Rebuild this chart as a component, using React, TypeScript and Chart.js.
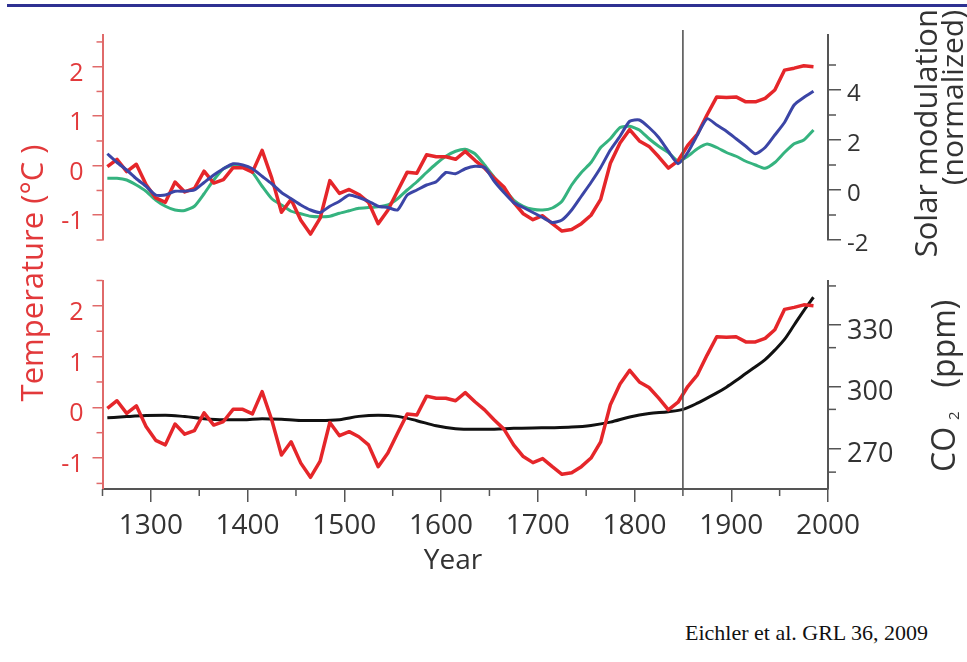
import React, { useEffect, useRef } from "react";
import { Chart, registerables } from "chart.js";

Chart.register(...registerables);

// ---------- data ----------
const YEARS = [
  1255, 1265, 1275, 1285, 1295, 1305, 1315, 1325, 1335, 1345,
  1355, 1365, 1375, 1385, 1395, 1405, 1415, 1425, 1435, 1445,
  1455, 1465, 1475, 1485, 1495, 1505, 1515, 1525, 1535, 1545,
  1555, 1565, 1575, 1585, 1595, 1605, 1615, 1625, 1635, 1645,
  1655, 1665, 1675, 1685, 1695, 1705, 1715, 1725, 1735, 1745,
  1755, 1765, 1775, 1785, 1795, 1805, 1815, 1825, 1835, 1845,
  1855, 1865, 1875, 1885, 1895, 1905, 1915, 1925, 1935, 1945,
  1955, 1965, 1975, 1985,
];

const TEMPERATURE = [
  -0.02, 0.13, -0.12, 0.03, -0.38, -0.65, -0.74, -0.33, -0.53, -0.46,
  -0.11, -0.35, -0.28, -0.04, -0.04, -0.13, 0.31, -0.25, -0.94, -0.68,
  -1.1, -1.38, -1.06, -0.3, -0.56, -0.48, -0.58, -0.74, -1.17, -0.9,
  -0.51, -0.13, -0.15, 0.22, 0.18, 0.18, 0.13, 0.29, 0.11, -0.05,
  -0.25, -0.43, -0.74, -0.97, -1.09, -1.01, -1.17, -1.32, -1.29, -1.17,
  -1.0, -0.68, 0.05, 0.46, 0.73, 0.5, 0.39, 0.18, -0.05, 0.1,
  0.41, 0.64, 1.03, 1.39, 1.38, 1.39, 1.29, 1.29, 1.36, 1.53,
  1.93, 1.97, 2.02, 2.0,
];

const SOLAR_BLUE = [
  1.45, 1.1, 0.8, 0.45, 0.15, -0.2, -0.2, -0.05, -0.05, 0.0,
  0.3, 0.6, 0.85, 1.05, 1.0, 0.85, 0.55, 0.25, -0.1, -0.35,
  -0.6, -0.8, -0.9, -0.65, -0.45, -0.2, -0.3, -0.45, -0.65, -0.7,
  -0.8, -0.2, 0.0, 0.2, 0.33, 0.7, 0.65, 0.85, 0.95, 0.9,
  0.35, -0.1, -0.5, -0.7, -0.9, -1.1, -1.3, -1.2, -0.8, -0.25,
  0.3, 0.9, 1.6, 2.15, 2.75, 2.8, 2.5, 2.1, 1.55, 1.05,
  1.5, 2.2, 2.85, 2.6, 2.35, 2.05, 1.75, 1.45, 1.7, 2.2,
  2.7, 3.4, 3.7, 3.95,
];

const SOLAR_GREEN = [
  0.47, 0.47, 0.4, 0.2, -0.05, -0.4, -0.65, -0.8, -0.82, -0.65,
  -0.15, 0.4, 0.85, 1.0, 0.95, 0.7, 0.15, -0.35, -0.6, -0.85,
  -0.95, -1.05, -1.07, -1.05, -0.93, -0.83, -0.73, -0.7, -0.67, -0.6,
  -0.35, 0.0, 0.33, 0.7, 1.05, 1.35, 1.55, 1.63, 1.45, 1.0,
  0.5, 0.05, -0.4, -0.65, -0.77, -0.8, -0.72, -0.45, 0.2, 0.7,
  1.1, 1.7, 2.05, 2.5, 2.55, 2.4, 2.05, 1.75, 1.5, 1.15,
  1.35, 1.65, 1.84, 1.7, 1.5, 1.35, 1.15, 1.0, 0.87, 1.1,
  1.5, 1.85, 2.0, 2.4,
];

const CO2_YEARS = [
  1255, 1275, 1295, 1315, 1335, 1355, 1375, 1395, 1415, 1435,
  1455, 1475, 1495, 1515, 1535, 1555, 1575, 1595, 1615, 1635,
  1655, 1675, 1695, 1715, 1735, 1755, 1775, 1795, 1815, 1835,
  1850, 1865, 1875, 1885, 1895, 1905, 1915, 1925, 1935, 1945,
  1955, 1965, 1975, 1985,
];

const CO2_PPM = [
  284.9, 285.5, 286.0, 286.2, 285.5, 284.5, 284.0, 284.0, 284.5, 284.2,
  283.6, 283.6, 284.0, 285.6, 286.2, 285.6, 283.5, 281.0, 279.6, 279.3,
  279.4, 279.8, 280.0, 280.1, 280.4, 281.2, 282.8, 285.3, 287.0, 287.9,
  289.0, 292.0, 294.5, 297.0, 299.8, 303.0, 306.4, 309.7, 313.2, 317.8,
  323.0, 330.0, 337.0, 343.5,
];

// ---------- ticks ----------
const X_MAJOR = [1300, 1400, 1500, 1600, 1700, 1800, 1900, 2000];
const X_MINOR = [1250, 1350, 1450, 1550, 1650, 1750, 1850, 1950];
const TEMP_MAJOR = [-1, 0, 1, 2];
const TEMP_MINOR = [-1.5, -0.5, 0.5, 1.5, 2.5];
const SOLAR_MAJOR = [-2, 0, 2, 4];
const SOLAR_MINOR = [-1, 1, 3, 5];
const CO2_MAJOR = [270, 300, 330];
const CO2_MINOR = [258.5, 289, 319, 349];
const MARKER_YEAR = 1850;

// ---------- styles ----------
const FONT = "'Open Sans', 'DejaVu Sans', sans-serif";
const RED = "#e5262a";
const RED_AXIS = "#e06a6a";
const RED_TEXT = "#e2393b";
const BLUE = "#3b45a6";
const GREEN = "#35b37f";
const DARK = "#333333";
const AXIS_GRAY = "#555555";

const pts = (xs: number[], ys: number[]) => xs.map((x, i) => ({ x, y: ys[i] }));

type Minor = { axis: string; values: number[]; length: number; color: string; width: number };

function makeDecor(id: string, minors: Minor[], lineTop: number, toCanvasBottom: boolean) {
  return {
    id,
    afterDatasetsDraw(chart: any) {
      const ctx = chart.ctx;
      const px = chart.scales.x.getPixelForValue(MARKER_YEAR);
      const bottom = toCanvasBottom ? chart.height : chart.chartArea.bottom;
      ctx.save();
      ctx.strokeStyle = AXIS_GRAY;
      ctx.lineWidth = 1.6;
      ctx.beginPath();
      ctx.moveTo(px, lineTop);
      ctx.lineTo(px, bottom);
      ctx.stroke();
      ctx.restore();
    },
    afterDraw(chart: any) {
      const ctx = chart.ctx;
      ctx.save();
      for (const m of minors) {
        const s = chart.scales[m.axis];
        ctx.strokeStyle = m.color;
        ctx.lineWidth = m.width;
        for (const v of m.values) {
          const p = s.getPixelForValue(v);
          ctx.beginPath();
          if (s.isHorizontal()) {
            ctx.moveTo(p, s.top);
            ctx.lineTo(p, s.top + m.length);
          } else if (s.position === "left") {
            ctx.moveTo(s.right, p);
            ctx.lineTo(s.right - m.length, p);
          } else {
            ctx.moveTo(s.left, p);
            ctx.lineTo(s.left + m.length, p);
          }
          ctx.stroke();
        }
      }
      ctx.restore();
    },
  };
}

function yAxis(opts: {
  position: "left" | "right";
  min: number;
  max: number;
  majors: number[];
  width: number;
  spine: string;
  tick: string;
  label: string;
  size: number;
  tickLength: number;
  padding: number;
  labelOffset: number;
}) {
  return {
    type: "linear",
    position: opts.position,
    min: opts.min,
    max: opts.max,
    afterBuildTicks: (s: any) => {
      s.ticks = opts.majors.map((v) => ({ value: v }));
    },
    afterFit: (s: any) => {
      s.width = opts.width;
      s.paddingTop = 0;
      s.paddingBottom = 0;
    },
    grid: {
      drawOnChartArea: false,
      drawTicks: true,
      tickLength: opts.tickLength,
      color: opts.tick,
      lineWidth: 1.5,
    },
    border: { display: true, color: opts.spine, width: 2 },
    ticks: {
      color: opts.label,
      font: { family: FONT, size: opts.size },
      padding: opts.padding,
      labelOffset: opts.labelOffset,
      autoSkip: false,
      callback: (v: any) => String(v),
    },
  };
}

const LEFT_PAD = 40;
const LEFT_W = 62.5;
const RIGHT_PAD = 39;
const RIGHT_W = 100;

export default function App() {
  const topRef = useRef<HTMLCanvasElement | null>(null);
  const botRef = useRef<HTMLCanvasElement | null>(null);

  useEffect(() => {
    const top = new Chart(topRef.current as HTMLCanvasElement, {
      type: "line",
      data: {
        datasets: [
          {
            label: "Temperature",
            data: pts(YEARS, TEMPERATURE),
            yAxisID: "yT",
            borderColor: RED,
            borderWidth: 3.5,
            pointRadius: 0,
            tension: 0,
            borderJoinStyle: "round",
            order: 2,
          },
          {
            label: "Solar modulation (blue)",
            data: pts(YEARS, SOLAR_BLUE),
            yAxisID: "yS",
            borderColor: BLUE,
            borderWidth: 3,
            pointRadius: 0,
            tension: 0.2,
            borderJoinStyle: "round",
            order: 1,
          },
          {
            label: "Solar modulation (green)",
            data: pts(YEARS, SOLAR_GREEN),
            yAxisID: "yS",
            borderColor: GREEN,
            borderWidth: 3,
            pointRadius: 0,
            tension: 0.2,
            borderJoinStyle: "round",
            order: 3,
          },
        ],
      } as any,
      options: {
        animation: false,
        responsive: false,
        events: [],
        layout: { padding: { left: LEFT_PAD, right: RIGHT_PAD, top: 35, bottom: 22 } },
        plugins: { legend: { display: false }, tooltip: { enabled: false } },
        scales: {
          x: { type: "linear", min: 1250, max: 2000, display: false },
          yT: yAxis({
            position: "left", min: -1.5, max: 2.64, majors: TEMP_MAJOR, width: LEFT_W,
            spine: RED_AXIS, tick: RED_AXIS, label: RED_TEXT, size: 25,
            tickLength: 10, padding: 9, labelOffset: 7,
          }),
          yS: yAxis({
            position: "right", min: -2, max: 6.2, majors: SOLAR_MAJOR, width: RIGHT_W,
            spine: AXIS_GRAY, tick: AXIS_GRAY, label: DARK, size: 24,
            tickLength: 13, padding: 6, labelOffset: 4,
          }),
        },
      } as any,
      plugins: [
        makeDecor("decorTop", [
          { axis: "yT", values: TEMP_MINOR, length: 6, color: RED_AXIS, width: 1.5 },
          { axis: "yS", values: SOLAR_MINOR, length: 8, color: AXIS_GRAY, width: 1.5 },
        ], 30, true),
      ],
    });

    const bottom = new Chart(botRef.current as HTMLCanvasElement, {
      type: "line",
      data: {
        datasets: [
          {
            label: "Temperature",
            data: pts(YEARS, TEMPERATURE),
            yAxisID: "yT",
            borderColor: RED,
            borderWidth: 3.5,
            pointRadius: 0,
            tension: 0,
            borderJoinStyle: "round",
            order: 1,
          },
          {
            label: "CO2",
            data: pts(CO2_YEARS, CO2_PPM),
            yAxisID: "yC",
            borderColor: "#111111",
            borderWidth: 3,
            pointRadius: 0,
            cubicInterpolationMode: "monotone",
            order: 2,
          },
        ],
      } as any,
      options: {
        animation: false,
        responsive: false,
        events: [],
        layout: { padding: { left: LEFT_PAD, right: RIGHT_PAD, top: 19, bottom: 23 } },
        plugins: { legend: { display: false }, tooltip: { enabled: false } },
        scales: {
          x: {
            type: "linear",
            position: "bottom",
            min: 1250,
            max: 2000,
            afterBuildTicks: (s: any) => {
              s.ticks = X_MAJOR.map((v) => ({ value: v }));
            },
            afterFit: (s: any) => {
              s.height = 50;
              s.paddingLeft = 0;
              s.paddingRight = 0;
            },
            grid: { drawOnChartArea: false, drawTicks: true, tickLength: 13, color: AXIS_GRAY, lineWidth: 1.5 },
            border: { display: true, color: AXIS_GRAY, width: 2 },
            ticks: {
              color: DARK,
              font: { family: FONT, size: 28 },
              padding: 7,
              maxRotation: 0,
              autoSkip: false,
              callback: (v: any) => String(v),
            },
          },
          yT: yAxis({
            position: "left", min: -1.61, max: 2.49, majors: TEMP_MAJOR, width: LEFT_W,
            spine: RED_AXIS, tick: RED_AXIS, label: RED_TEXT, size: 25,
            tickLength: 10, padding: 9, labelOffset: 7,
          }),
          yC: yAxis({
            position: "right", min: 250.3, max: 351.4, majors: CO2_MAJOR, width: RIGHT_W,
            spine: AXIS_GRAY, tick: AXIS_GRAY, label: DARK, size: 27,
            tickLength: 13, padding: 6, labelOffset: 6,
          }),
        },
      } as any,
      plugins: [
        makeDecor("decorBottom", [
          { axis: "yT", values: TEMP_MINOR, length: 6, color: RED_AXIS, width: 1.5 },
          { axis: "yC", values: CO2_MINOR, length: 8, color: AXIS_GRAY, width: 1.5 },
          { axis: "x", values: X_MINOR, length: 7, color: AXIS_GRAY, width: 1.5 },
        ], 0, false),
      ],
    });

    return () => {
      top.destroy();
      bottom.destroy();
    };
  }, []);

  const rot: React.CSSProperties = {
    position: "absolute",
    whiteSpace: "nowrap",
    transformOrigin: "0 0",
    transform: "rotate(-90deg)",
    fontFamily: FONT,
  };

  return (
    <div style={{ position: "absolute", left: 0, top: 0, width: 967, height: 662, overflow: "hidden", background: "#fff" }}>
      <div style={{ position: "absolute", left: 7, top: 4, width: 960, height: 2.5, background: "#2e3192" }} />
      <canvas
        ref={topRef}
        width={967}
        height={262}
        style={{ position: "absolute", left: 0, top: 0, width: 967, height: 262 }}
      />
      <canvas
        ref={botRef}
        width={967}
        height={300}
        style={{ position: "absolute", left: 0, top: 262, width: 967, height: 300 }}
      />
      <div
        style={{ ...rot, left: 16, top: 473, width: 400, height: 31, lineHeight: "31px", fontSize: 31, color: RED_TEXT, textAlign: "center" }}
      >
        Temperature (°C )
      </div>
      <div
        style={{ ...rot, left: 909.5, top: 309, width: 300, height: 31, lineHeight: "31px", fontSize: 31, color: DARK, textAlign: "right" }}
      >
        Solar modulation
      </div>
      <div
        style={{ ...rot, left: 937, top: 310, width: 300, height: 30, lineHeight: "30px", fontSize: 30, color: DARK, textAlign: "right" }}
      >
        (normalized)
      </div>
      <div
        style={{ ...rot, left: 927.4, top: 472, width: 250, height: 32, lineHeight: "32px", fontSize: 32, color: DARK, textAlign: "left" }}
      >
        CO
        <span style={{ fontSize: 15, position: "relative", top: 4, marginLeft: 7 }}>2</span>
        <span style={{ marginLeft: 24 }}>(ppm)</span>
      </div>
      <div
        style={{ position: "absolute", left: 353, top: 544, width: 200, textAlign: "center", fontFamily: FONT, fontSize: 28, lineHeight: "28px", color: DARK }}
      >
        Year
      </div>
      <div
        style={{ position: "absolute", left: 685, top: 621.6, whiteSpace: "nowrap", fontFamily: "'Liberation Serif', 'Times New Roman', serif", fontSize: 22, lineHeight: "22px", color: "#111" }}
      >
        Eichler et al. GRL 36, 2009
      </div>
    </div>
  );
}
